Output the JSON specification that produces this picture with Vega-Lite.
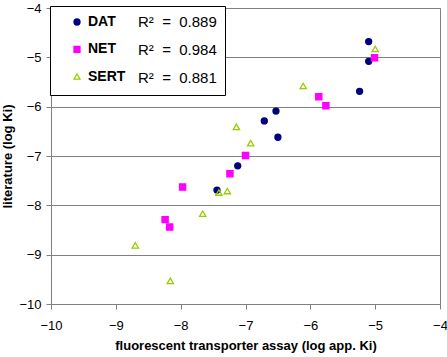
{
  "$schema": "https://vega.github.io/schema/vega-lite/v6.json",
  "width": 389,
  "height": 296,
  "autosize": {"type": "none"},
  "padding": {"left": 51, "top": 8, "right": 7, "bottom": 53},
  "background": "white",
  "config": {
    "font": "Liberation Sans",
    "view": {"stroke": "#808080", "strokeWidth": 1}
  },
  "data": {
    "values": [
      {"transporter": "DAT", "r2": "R²\u00a0 =\u00a0 0.889", "fta": -5.10, "lit": -4.68},
      {"transporter": "DAT", "r2": "R²\u00a0 =\u00a0 0.889", "fta": -5.10, "lit": -5.08},
      {"transporter": "DAT", "r2": "R²\u00a0 =\u00a0 0.889", "fta": -5.24, "lit": -5.69},
      {"transporter": "DAT", "r2": "R²\u00a0 =\u00a0 0.889", "fta": -6.53, "lit": -6.09},
      {"transporter": "DAT", "r2": "R²\u00a0 =\u00a0 0.889", "fta": -6.71, "lit": -6.29},
      {"transporter": "DAT", "r2": "R²\u00a0 =\u00a0 0.889", "fta": -6.50, "lit": -6.62},
      {"transporter": "DAT", "r2": "R²\u00a0 =\u00a0 0.889", "fta": -7.12, "lit": -7.20},
      {"transporter": "DAT", "r2": "R²\u00a0 =\u00a0 0.889", "fta": -7.44, "lit": -7.69},
      {"transporter": "NET", "r2": "R²\u00a0 =\u00a0 0.984", "fta": -5.01, "lit": -5.01},
      {"transporter": "NET", "r2": "R²\u00a0 =\u00a0 0.984", "fta": -5.87, "lit": -5.80},
      {"transporter": "NET", "r2": "R²\u00a0 =\u00a0 0.984", "fta": -5.76, "lit": -5.98},
      {"transporter": "NET", "r2": "R²\u00a0 =\u00a0 0.984", "fta": -7.00, "lit": -6.99},
      {"transporter": "NET", "r2": "R²\u00a0 =\u00a0 0.984", "fta": -7.24, "lit": -7.36},
      {"transporter": "NET", "r2": "R²\u00a0 =\u00a0 0.984", "fta": -7.97, "lit": -7.63},
      {"transporter": "NET", "r2": "R²\u00a0 =\u00a0 0.984", "fta": -8.24, "lit": -8.29},
      {"transporter": "NET", "r2": "R²\u00a0 =\u00a0 0.984", "fta": -8.17, "lit": -8.44},
      {"transporter": "SERT", "r2": "R²\u00a0 =\u00a0 0.881", "fta": -5.00, "lit": -4.83},
      {"transporter": "SERT", "r2": "R²\u00a0 =\u00a0 0.881", "fta": -6.11, "lit": -5.58},
      {"transporter": "SERT", "r2": "R²\u00a0 =\u00a0 0.881", "fta": -7.14, "lit": -6.41},
      {"transporter": "SERT", "r2": "R²\u00a0 =\u00a0 0.881", "fta": -6.92, "lit": -6.74},
      {"transporter": "SERT", "r2": "R²\u00a0 =\u00a0 0.881", "fta": -7.28, "lit": -7.71},
      {"transporter": "SERT", "r2": "R²\u00a0 =\u00a0 0.881", "fta": -7.41, "lit": -7.74},
      {"transporter": "SERT", "r2": "R²\u00a0 =\u00a0 0.881", "fta": -7.66, "lit": -8.17},
      {"transporter": "SERT", "r2": "R²\u00a0 =\u00a0 0.881", "fta": -8.70, "lit": -8.81},
      {"transporter": "SERT", "r2": "R²\u00a0 =\u00a0 0.881", "fta": -8.16, "lit": -9.53}
    ]
  },
  "mark": {"type": "point", "opacity": 1, "strokeWidth": 1.3},
  "encoding": {
    "x": {
      "field": "fta",
      "type": "quantitative",
      "scale": {"domain": [-10, -4], "nice": false, "zero": false},
      "axis": {
        "title": "fluorescent transporter assay (log app. Ki)",
        "titleFontSize": 13,
        "titleFontWeight": "bold",
        "titleColor": "black",
        "titlePadding": 7,
        "values": [-10, -9, -8, -7, -6, -5, -4],
        "grid": false,
        "domainColor": "#808080",
        "tickColor": "#808080",
        "tickSize": 5,
        "labelFontSize": 13,
        "labelColor": "black",
        "labelPadding": 10,
        "labelFlush": false
      }
    },
    "y": {
      "field": "lit",
      "type": "quantitative",
      "scale": {"domain": [-10, -4], "nice": false, "zero": false},
      "axis": {
        "title": "literature (log Ki)",
        "titleFontSize": 13,
        "titleFontWeight": "bold",
        "titleColor": "black",
        "titlePadding": 4,
        "values": [-10, -9, -8, -7, -6, -5, -4],
        "grid": true,
        "gridColor": "#808080",
        "gridOpacity": 1,
        "domainColor": "#808080",
        "tickColor": "#808080",
        "tickSize": 5,
        "labelFontSize": 13,
        "labelColor": "black",
        "labelPadding": 5
      }
    },
    "shape": {
      "field": "transporter",
      "type": "nominal",
      "scale": {"domain": ["DAT", "NET", "SERT"], "range": ["circle", "square", "triangle-up"]},
      "legend": {"orient": "none", "legendX": 19, "legendY": 7, "title": null, "padding": 0, "symbolSize": 36, "labelFontSize": 14, "labelFontWeight": "bold", "labelColor": "black", "labelOffset": 4, "rowPadding": 13.3, "symbolStrokeWidth": 1.3}
    },
    "fill": {
      "field": "transporter",
      "type": "nominal",
      "scale": {"domain": ["DAT", "NET", "SERT"], "range": ["#000080", "#FF00FF", "transparent"]},
      "legend": {"orient": "none", "legendX": 19, "legendY": 7, "title": null, "padding": 0, "symbolSize": 36, "labelFontSize": 14, "labelFontWeight": "bold", "labelColor": "black", "labelOffset": 4, "rowPadding": 13.3, "symbolStrokeWidth": 1.3}
    },
    "stroke": {
      "field": "transporter",
      "type": "nominal",
      "scale": {"domain": ["DAT", "NET", "SERT"], "range": ["#000080", "#FF00FF", "#99CC00"]},
      "legend": {"orient": "none", "legendX": 19, "legendY": 7, "title": null, "padding": 0, "symbolSize": 36, "labelFontSize": 14, "labelFontWeight": "bold", "labelColor": "black", "labelOffset": 4, "rowPadding": 13.3, "symbolStrokeWidth": 1.3}
    },
    "size": {
      "field": "r2",
      "type": "ordinal",
      "scale": {"domain": ["R²\u00a0 =\u00a0 0.889", "R²\u00a0 =\u00a0 0.984", "R²\u00a0 =\u00a0 0.881"], "range": [36, 40, 49]},
      "legend": {"orient": "none", "legendX": -1, "legendY": -2, "title": null, "padding": 8, "symbolOpacity": 0, "labelFontSize": 15, "labelColor": "black", "labelOffset": 65, "rowPadding": 12.3, "strokeColor": "#000000", "fillColor": "white"}
    }
  }
}
